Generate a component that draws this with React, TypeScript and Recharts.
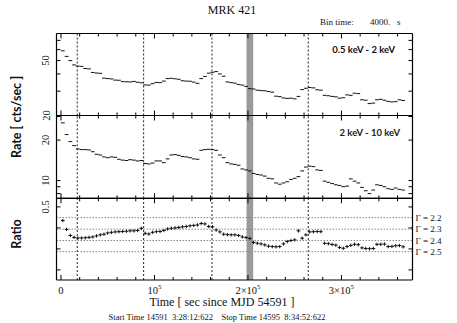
import { ScatterChart, Scatter, XAxis, YAxis, ErrorBar, ReferenceLine, ReferenceArea } from 'recharts'

// MRK 421 light curve, 4000 s bins from the start of the observation
const binTime = 4000

const rateSoft = [
  58.8, 53.6, 50.0, 46.5, 45.6, 45.4, 43.8, 43.5, 41.0, 40.6,
  40.4, 37.3, 37.0, 36.8, 36.1, 36.0, 35.2, 35.1, 35.0, 35.3,
  34.8, 34.5, 33.3, 33.2, 34.0, 34.7, 34.6, 35.5, 37.0, 37.2,
  36.9, 36.6, 35.7, 35.5, 35.4, 34.9, 34.2, 37.0, 38.4, 40.5,
  41.1, 41.6, 40.0, 38.5, 35.0, 34.6, 34.3, 33.5, 33.2, 32.5,
  31.3, 31.1, 30.5, 30.3, 30.2, 29.8, 29.5, 27.6, 27.4, 26.8,
  26.6, 26.7, 26.4, 27.5, 30.8, 31.5, 31.9, 31.7, 30.7, 30.5,
  28.0, 27.8, 27.5, 27.3, 26.7, 26.9, 28.2, 28.0, 29.0, 28.8,
  26.0, 25.8, 24.4, 24.6, 26.0, 26.2, 25.8, 25.3, 25.1, 25.2,
  26.0, 25.7,
]

const rateHard = [
  26.9, 22.0, 19.5, 18.2, 17.2, 17.0, 17.0, 16.9, 16.4, 15.7,
  15.5, 15.0, 14.8, 15.0, 14.9, 14.4, 14.2, 14.1, 14.3, 14.2,
  14.0, 14.1, 13.4, 13.3, 13.5, 14.0, 14.0, 13.6, 14.5, 15.5,
  15.6, 15.4, 15.1, 15.0, 14.8, 14.5, 14.4, 16.8, 17.0, 17.1,
  17.0, 16.8, 15.5, 14.8, 13.6, 13.3, 13.2, 13.0, 12.2, 12.0,
  11.8, 11.3, 11.1, 11.0, 10.8, 10.4, 10.3, 9.6, 9.4, 9.6,
  9.8, 10.2, 10.4, 10.7, 11.8, 12.6, 12.8, 12.7, 12.0, 11.9,
  9.9, 9.7, 9.5, 9.3, 9.2, 9.0, 9.1, 10.3, 9.9, 9.6,
  8.9, 8.4, 8.0, 8.5, 9.3, 9.2, 9.0, 8.7, 8.6, 8.8,
  8.6, 8.5,
]

const hardnessRatio = [
  0.435, 0.393, 0.364, 0.355, 0.352, 0.352, 0.353, 0.355, 0.357, 0.362,
  0.367, 0.370, 0.376, 0.379, 0.381, 0.382, 0.383, 0.384, 0.386, 0.386,
  0.388, 0.398, 0.374, 0.371, 0.379, 0.382, 0.383, 0.388, 0.395, 0.398,
  0.400, 0.402, 0.405, 0.407, 0.410, 0.412, 0.414, 0.421, 0.419, 0.407,
  0.405, 0.390, 0.381, 0.370, 0.368, 0.367, 0.367, 0.364, 0.357, 0.354,
  0.350, 0.331, 0.327, 0.324, 0.319, 0.313, 0.311, 0.310, 0.311, 0.324,
  0.335, 0.340, 0.343, 0.386, 0.351, 0.367, 0.381, 0.382, 0.383, 0.382,
  0.327, 0.325, 0.321, 0.318, 0.307, 0.303, 0.311, 0.317, 0.322, 0.320,
  0.305, 0.302, 0.301, 0.302, 0.322, 0.322, 0.323, 0.311, 0.312, 0.315,
  0.316, 0.310,
]
const ratioErr = 0.008

const timeTicks = [
  0, 20000, 40000, 60000, 80000, 100000, 120000, 140000, 160000, 180000,
  200000, 220000, 240000, 260000, 280000, 300000, 320000, 340000, 360000,
]
const majorTicks = [0, 100000, 200000, 300000]
const majorBase = ['0', '10', '2×10', '3×10']
const majorExp = ['', '5', '5', '5']

const dashedTimes = [17400, 88400, 161500, 264500]
const bandTimes = [198500, 205600]

const softTicks = [20, 30, 40, 50, 60, 70]
const softLabels = [20, 50]
const hardTicks = [8, 9, 10, 20, 30]
const hardLabels = [10, 20]
const ratioTicks = [0.2, 0.3, 0.4, 0.5]
const ratioLabels = [0.5]

const gammaNames = ['2.2', '2.3', '2.4', '2.5']
const gammaRatio = [0.449, 0.394, 0.34, 0.287]

const toPoints = (vals: number[], err: number) =>
  vals.map((v, i) => ({ t: (i + 0.5) * binTime, v, xe: binTime / 2, ye: err }))

const W = 457
const H = 323
const LEFT = 56.5
const RIGHT = 412.5
const timeDomain = [-4800, 376000]
const serif = '"Liberation Serif", "DejaVu Serif", serif'
const sans = 'Lato, "Open Sans", sans-serif'

const xTick = (dir: number, labels: boolean) => (p: any) => {
  const v = p.payload.value
  const k = majorTicks.indexOf(v)
  const len = k >= 0 ? 5 : 3
  return (
    <g>
      <line x1={p.x} x2={p.x} y1={p.y} y2={p.y + dir * len} stroke="#000" strokeWidth={1} />
      {labels && k >= 0 && (
        <text x={p.x} y={p.y + 13.5} textAnchor="middle" fontFamily={serif} fontSize={10.5} fill="#111">
          {majorBase[k]}
          {majorExp[k] && <tspan dy={-4.5} fontSize={7}>{majorExp[k]}</tspan>}
        </text>
      )}
    </g>
  )
}

const yTick = (dir: number, labels: number[] | null) => (p: any) => {
  const v = p.payload.value
  const show = labels && labels.includes(v)
  const bx = p.x - 7
  return (
    <g>
      <line x1={p.x} x2={p.x + dir * 4} y1={p.y} y2={p.y} stroke="#000" strokeWidth={1} />
      {show && (
        <text x={bx} y={p.y} transform={`rotate(-90 ${bx} ${p.y})`} textAnchor="middle"
          fontFamily={serif} fontSize={10.5} fill="#111">{v}</text>
      )}
    </g>
  )
}

const gammaLabel = (name: string) => (p: any) => {
  const vb = p.viewBox || {}
  const x = (vb.x || 0) + (vb.width || 0) + 3
  const y = vb.y || 0
  return (
    <text x={x} y={y} dy="0.35em" fontFamily={serif} fontSize={9} fill="#111" stroke="none">
      Γ = {name}
    </text>
  )
}

const Empty = () => <g />

function Panel({ top, bottom, data, domain, scale, ticks, labels, yErr, xLabels, children }: any) {
  return (
    <div style={{ position: 'absolute', left: 0, top: 0 }}>
      <ScatterChart width={W} height={H}
        margin={{ top: top - 1, bottom: H - bottom - 1, left: LEFT - 1, right: W - RIGHT - 1 }}>
        <XAxis xAxisId="b" type="number" dataKey="t" domain={timeDomain} allowDataOverflow
          ticks={timeTicks} interval={0} height={1} tickSize={0} tickMargin={0}
          axisLine={{ stroke: '#000', strokeWidth: 1.2 }} tickLine={false} tick={xTick(-1, xLabels)} />
        <XAxis xAxisId="t" orientation="top" type="number" dataKey="t" domain={timeDomain} allowDataOverflow
          ticks={timeTicks} interval={0} height={1} tickSize={0} tickMargin={0}
          axisLine={{ stroke: '#000', strokeWidth: 1.2 }} tickLine={false} tick={xTick(1, false)} />
        <YAxis yAxisId="l" type="number" dataKey="v" scale={scale} domain={domain} allowDataOverflow
          ticks={ticks} interval={0} width={1} tickSize={0} tickMargin={0}
          axisLine={{ stroke: '#000', strokeWidth: 1.2 }} tickLine={false} tick={yTick(1, labels)} />
        <YAxis yAxisId="r" orientation="right" type="number" dataKey="v" scale={scale} domain={domain} allowDataOverflow
          ticks={ticks} interval={0} width={1} tickSize={0} tickMargin={0}
          axisLine={{ stroke: '#000', strokeWidth: 1.2 }} tickLine={false} tick={yTick(-1, null)} />
        <ReferenceArea xAxisId="b" yAxisId="l" x1={bandTimes[0]} x2={bandTimes[1]}
          fill="#9a9a9a" fillOpacity={1} stroke="none" />
        {dashedTimes.map((t) => (
          <ReferenceLine key={t} xAxisId="b" yAxisId="l" x={t} stroke="#222" strokeWidth={1} strokeDasharray="2 2" />
        ))}
        {children}
        <Scatter xAxisId="b" yAxisId="l" data={data} shape={Empty} isAnimationActive={false}>
          <ErrorBar dataKey="xe" direction="x" width={0} stroke="#111" strokeWidth={1} isAnimationActive={false} />
          {yErr && <ErrorBar dataKey="ye" direction="y" width={0} stroke="#111" strokeWidth={1} isAnimationActive={false} />}
        </Scatter>
        <Scatter xAxisId="t" yAxisId="r" data={data} shape={Empty} isAnimationActive={false} />
      </ScatterChart>
    </div>
  )
}

export default function App() {
  return (
    <div style={{ position: 'absolute', left: 0, top: 0, width: W, height: H, background: '#fff', overflow: 'hidden' }}>
      <Panel top={33.5} bottom={115.5} data={toPoints(rateSoft, 0)} domain={[20, 78.5]} scale="log"
        ticks={softTicks} labels={softLabels} yErr={false} xLabels={false} />
      <Panel top={115.5} bottom={198.3} data={toPoints(rateHard, 0)} domain={[7.38, 30.5]} scale="log"
        ticks={hardTicks} labels={hardLabels} yErr={false} xLabels={false} />
      <Panel top={198.3} bottom={280} data={toPoints(hardnessRatio, ratioErr)} domain={[0.152, 0.541]} scale="linear"
        ticks={ratioTicks} labels={ratioLabels} yErr xLabels>
        {gammaRatio.map((r, i) => (
          <ReferenceLine key={i} xAxisId="b" yAxisId="l" y={r} stroke="#888" strokeWidth={1} strokeDasharray="1.5 1.5"
            label={gammaLabel(gammaNames[i])} />
        ))}
      </Panel>
      <svg width={W} height={H} style={{ position: 'absolute', left: 0, top: 0 }}>
        <text x={232} y={14} textAnchor="middle" fontFamily={serif} fontSize={12} fill="#111">MRK 421</text>
        <text x={320} y={24.5} fontFamily={serif} fontSize={9} fill="#111">Bin time:</text>
        <text x={370} y={24.5} fontFamily={serif} fontSize={9} fill="#111">4000.</text>
        <text x={397} y={24.5} fontFamily={serif} fontSize={9} fill="#111">s</text>
        <text x={395} y={53.3} textAnchor="end" fontFamily={sans} fontWeight="bold" fontSize={9.5} fill="#111">0.5 keV - 2 keV</text>
        <text x={400} y={136} textAnchor="end" fontFamily={sans} fontWeight="bold" fontSize={9.5} fill="#222">2 keV - 10 keV</text>
        <text x={21} y={117} transform="rotate(-90 21 117)" textAnchor="middle" fontFamily={sans} fontWeight="bold" fontSize={12.5} fill="#111">Rate [ cts/sec ]</text>
        <text x={21} y={234} transform="rotate(-90 21 234)" textAnchor="middle" fontFamily={sans} fontWeight="bold" fontSize={12.5} fill="#111">Ratio</text>
        <text x={222} y={306} textAnchor="middle" fontFamily={serif} fontSize={12} fill="#111">Time [ sec since MJD 54591 ]</text>
        <text x={217} y={319.5} textAnchor="middle" fontFamily={serif} fontSize={8.5} fill="#111" xmlSpace="preserve">Start Time 14591  3:28:12:622    Stop Time 14595  8:34:52:622</text>
      </svg>
    </div>
  )
}
